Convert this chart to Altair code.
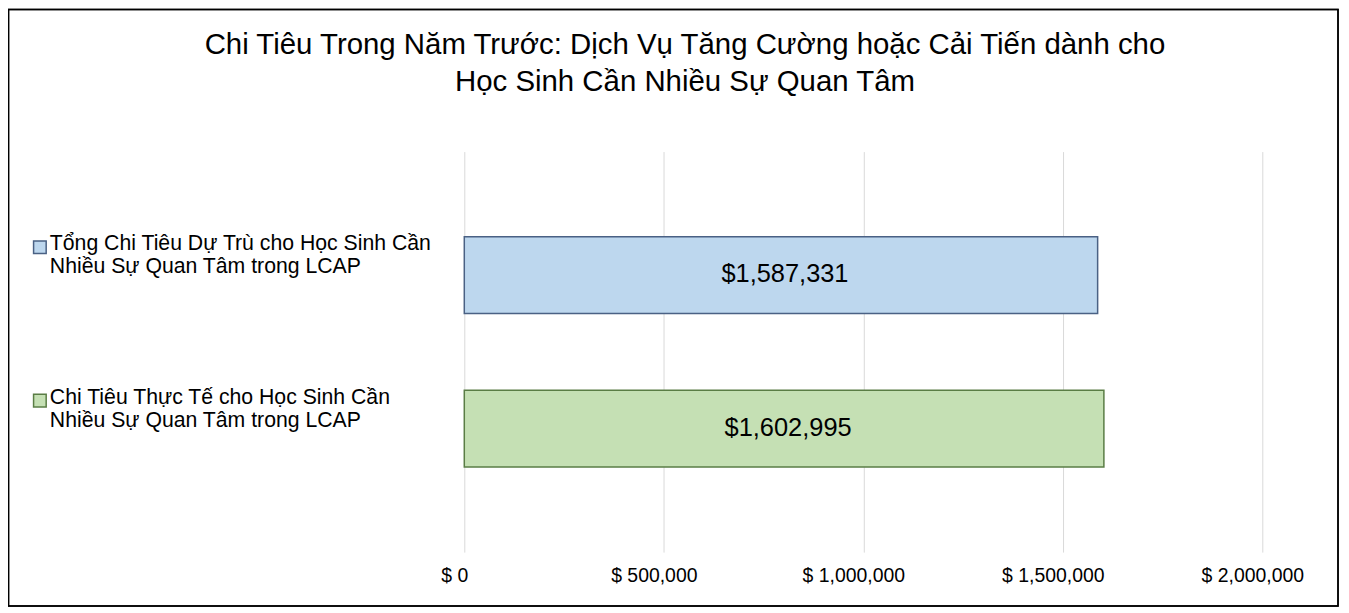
import altair as alt
import pandas as pd

title_lines = [
    "Chi Tiêu Trong Năm Trước: Dịch Vụ Tăng Cường hoặc Cải Tiến dành cho",
    "Học Sinh Cần Nhiều Sự Quan Tâm",
]
categories = [
    "Tổng Chi Tiêu Dự Trù cho Học Sinh Cần\nNhiều Sự Quan Tâm trong LCAP",
    "Chi Tiêu Thực Tế cho Học Sinh Cần\nNhiều Sự Quan Tâm trong LCAP",
]
values = [1587331, 1602995]
fills = ["#bdd7ee", "#c5e0b4"]
strokes = ["#4a6184", "#5a7d45"]
tick_values = [0, 500000, 1000000, 1500000, 2000000]

FONT = "Liberation Sans"

df = pd.DataFrame({"category": categories, "value": values})

y_enc = alt.Y(
    "category:N",
    sort=categories,
    scale=alt.Scale(domain=categories, paddingInner=0.5, paddingOuter=0.555),
    axis=None,
)
fill_enc = alt.Fill("category:N", scale=alt.Scale(domain=categories, range=fills), legend=None)
stroke_enc = alt.Stroke("category:N", scale=alt.Scale(domain=categories, range=strokes), legend=None)

base = alt.Chart(df)

bars = base.mark_bar(strokeWidth=1.5).encode(
    x=alt.X(
        "value:Q",
        scale=alt.Scale(domain=[0, 2000000], nice=False),
        axis=alt.Axis(
            values=tick_values,
            labelExpr="'$ ' + format(datum.value, ',')",
            grid=True,
            gridColor="#d9d9d9",
            gridWidth=1,
            domain=False,
            ticks=False,
            labelFontSize=19.5,
            labelFont=FONT,
            labelColor="#000000",
            labelPadding=15,
            labelFlush=False,
            labelOffset=-10,
            title=None,
        ),
    ),
    y=y_enc,
    fill=fill_enc,
    stroke=stroke_enc,
)

bar_text = base.transform_calculate(
    mid="datum.value / 2", lbl="'$' + format(datum.value, ',')"
).mark_text(fontSize=25.5, font=FONT, color="#000000", baseline="middle", align="center", dy=-1, dx=4).encode(
    x=alt.X("mid:Q"),
    y=y_enc,
    text="lbl:N",
)

cat_text = base.mark_text(
    align="left", baseline="alphabetic", dy=-25, fontSize=21.3, lineHeight=23,
    lineBreak="\n", font=FONT, color="#000000",
).encode(
    x=alt.value(-416),
    y=y_enc,
    text="category:N",
)

markers = base.mark_square(size=160, opacity=1, strokeWidth=1.5, yOffset=-28).encode(
    x=alt.value(-426),
    y=y_enc,
    fill=fill_enc,
    stroke=stroke_enc,
)

frame = base.mark_rect(fillOpacity=0, stroke="#000000", strokeWidth=1.5).encode(
    x=alt.value(-457.5), x2=alt.value(877), y=alt.value(-142.5), y2=alt.value(456)
)

chart = alt.layer(frame, bars, bar_text, cat_text, markers).properties(
    width=801,
    height=402,
    autosize=alt.AutoSizeParams(type="none"),
    padding={"left": 458, "top": 143, "right": 79, "bottom": 56},
    background="white",
    title=alt.TitleParams(
        text=title_lines,
        fontSize=29.5,
        font=FONT,
        fontWeight="normal",
        color="#000000",
        anchor="middle",
        frame="group",
        dx=-179,
        lineHeight=37,
        offset=0,
        dy=89,
    ),
).configure_view(stroke=None)

chart.save("out.html", embed_options={"renderer": "svg", "actions": False})
